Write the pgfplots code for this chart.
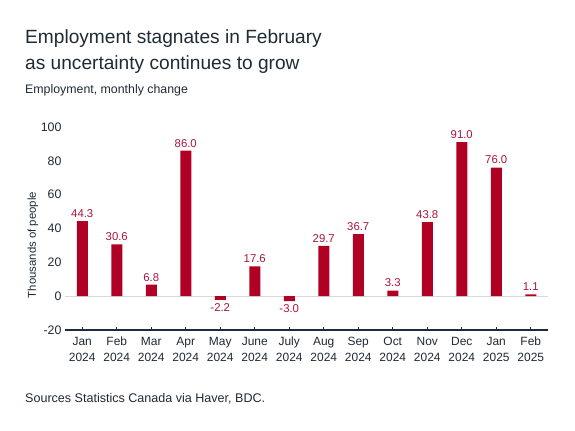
\documentclass[border=0pt]{standalone}
\usepackage{pgfplots}
\pgfplotsset{compat=1.18}
\usepackage{fontspec}
\setmainfont{Liberation Sans}
\definecolor{barred}{RGB}{176,0,36}
\definecolor{labred}{RGB}{170,20,60}
\definecolor{inkdark}{RGB}{30,42,52}
\definecolor{axisnavy}{RGB}{28,44,60}
\begin{document}
\begin{tikzpicture}
\path (0,0) rectangle (575bp,431bp);
\node[anchor=base west, inner sep=0, text=inkdark, font=\fontsize{19.2}{22}\selectfont] at (25bp,387bp) {Employment stagnates in February};
\node[anchor=base west, inner sep=0, text=inkdark, font=\fontsize{19.2}{22}\selectfont] at (25bp,361bp) {as uncertainty continues to grow};
\node[anchor=base west, inner sep=0, text=inkdark, font=\fontsize{12.4}{14}\selectfont] at (25bp,337bp) {Employment, monthly change};
\node[anchor=base west, inner sep=0, text=inkdark, font=\fontsize{12.6}{14}\selectfont] at (25bp,29bp) {Sources Statistics Canada via Haver, BDC.};
\node[rotate=90, inner sep=0, text=inkdark, font=\fontsize{11.4}{13}\selectfont] at (33bp,186bp) {Thousands of people};
\begin{axis}[
  at={(65bp,101bp)}, anchor=south west,
  scale only axis=true,
  width=483bp, height=203bp,
  ybar, bar width=11bp,
  xmin=-0.5, xmax=13.5, ymin=-20, ymax=100,
  enlargelimits=false,
  axis x line*=bottom, axis y line*=left,
  x axis line style={-, draw=axisnavy, line width=1.4bp},
  y axis line style={draw=none},
  xtick=data,
  xticklabels={{\strut Jan\\2024},{\strut Feb\\2024},{\strut Mar\\2024},{\strut Apr\\2024},{\strut May\\2024},{\strut June\\2024},{\strut July\\2024},{\strut Aug\\2024},{\strut Sep\\2024},{\strut Oct\\2024},{\strut Nov\\2024},{\strut Dec\\2024},{\strut Jan\\2025},{\strut Feb\\2025}},
  x tick label style={align=center, text=inkdark, font=\fontsize{12}{15.5}\selectfont, yshift=-1.5bp},
  xtick style={draw=axisnavy, line width=0.8bp},
  tick align=inside, major tick length=3bp,
  ytick={-20,0,20,40,60,80,100},
  ytick style={draw=none},
  y tick label style={text=inkdark, font=\fontsize{12.4}{14}\selectfont},
  extra y ticks={0}, extra y tick labels={},
  extra y tick style={grid=major, major grid style={draw=black!15, line width=1bp}},
  /pgf/number format/assume math mode=true,
  nodes near coords,
  nodes near coords style={text=labred, font=\fontsize{11.4}{13}\selectfont,
    /pgf/number format/.cd, fixed, precision=1, fixed zerofill, assume math mode=true},
]
\addplot[fill=barred, draw=none] coordinates {
  (0,44.3) (1,30.6) (2,6.8) (3,86.0) (4,-2.2) (5,17.6) (6,-3.0)
  (7,29.7) (8,36.7) (9,3.3) (10,43.8) (11,91.0) (12,76.0) (13,1.1)
};
\end{axis}
\end{tikzpicture}
\end{document}
